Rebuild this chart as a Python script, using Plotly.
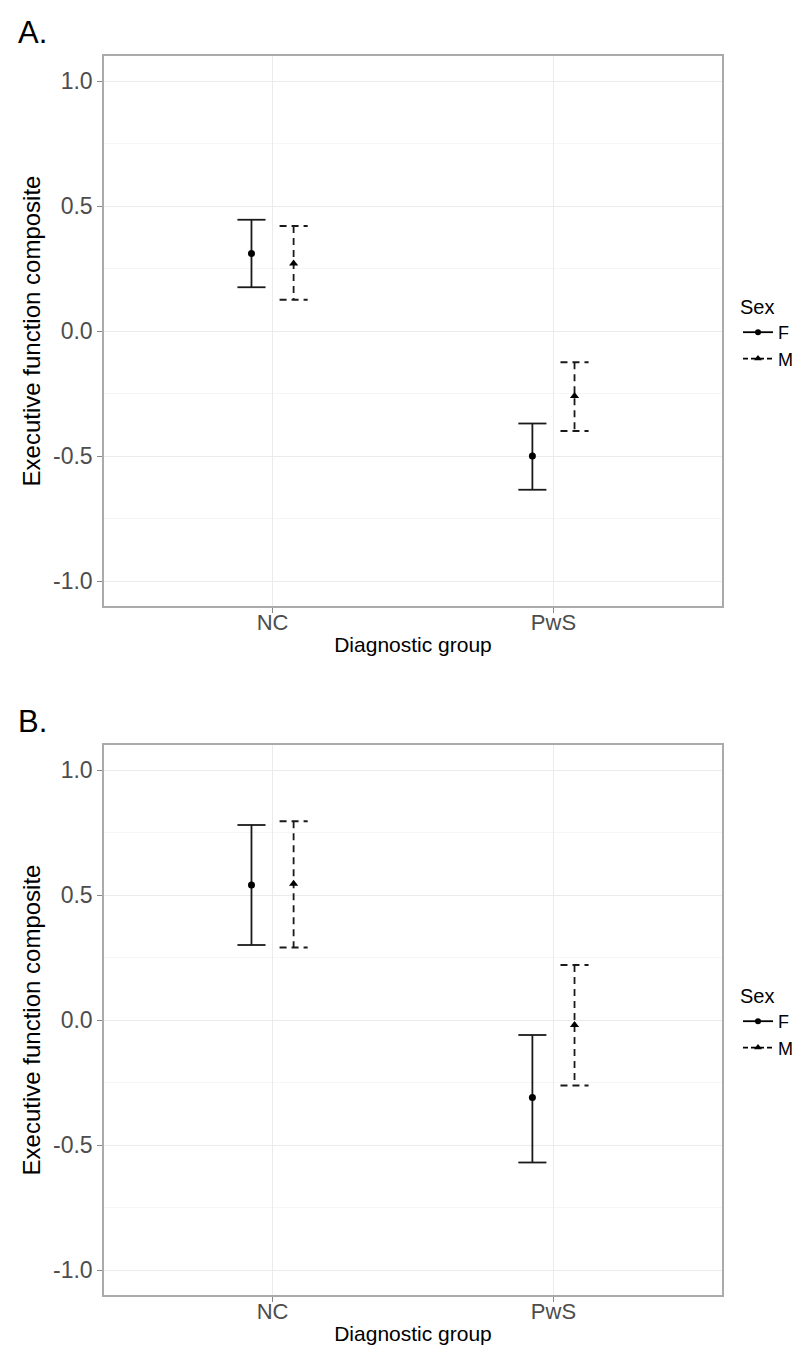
import plotly.graph_objects as go

# ---- data ----
groups = ["NC", "PwS"]
sexes = ["F", "M"]

A_F_mean = [0.31, -0.50]
A_F_lo = [0.175, -0.635]
A_F_hi = [0.445, -0.370]
A_M_mean = [0.27, -0.26]
A_M_lo = [0.125, -0.400]
A_M_hi = [0.420, -0.125]

B_F_mean = [0.54, -0.31]
B_F_lo = [0.300, -0.570]
B_F_hi = [0.780, -0.060]
B_M_mean = [0.545, -0.02]
B_M_lo = [0.290, -0.262]
B_M_hi = [0.795, 0.220]

yticks = [-1.0, -0.5, 0.0, 0.5, 1.0]
ytick_labels = ["-1.0", "-0.5", "0.0", "0.5", "1.0"]

panel_labels = ["A.", "B."]

# ---- styling ----
W, H = 806, 1345
FONT = "Liberation Sans, Arial, sans-serif"
dodge = {"F": -0.075, "M": 0.075}
cap = 0.05
dash_style = {"F": "solid", "M": "7px,5px"}
symbols = {"F": "circle", "M": "triangle-up"}
msize = {"F": 7, "M": 8}

fig = go.Figure()


def errbar_segments(xs, lo, hi):
    X, Y = [], []
    for x, l, h in zip(xs, lo, hi):
        X += [x - cap, x + cap, None]
        Y += [h, h, None]
        X += [x, x, None]
        Y += [h, l, None]
        X += [x - cap, x + cap, None]
        Y += [l, l, None]
    return X, Y


panels = [
    ("x", "y", "legend", {"F": (A_F_mean, A_F_lo, A_F_hi), "M": (A_M_mean, A_M_lo, A_M_hi)}),
    ("x2", "y2", "legend2", {"F": (B_F_mean, B_F_lo, B_F_hi), "M": (B_M_mean, B_M_lo, B_M_hi)}),
]

for xa, ya, lg, data in panels:
    for s in sexes:
        mean, lo, hi = data[s]
        xs = [i + 1 + dodge[s] for i in range(len(groups))]
        ex, ey = errbar_segments(xs, lo, hi)
        fig.add_trace(go.Scatter(
            x=ex, y=ey, mode="lines", xaxis=xa, yaxis=ya,
            line=dict(color="#1a1a1a", width=1.8, dash=dash_style[s]),
            showlegend=False, hoverinfo="skip"))
        fig.add_trace(go.Scatter(
            x=xs, y=mean, mode="markers", xaxis=xa, yaxis=ya,
            marker=dict(symbol=symbols[s], size=msize[s], color="black"),
            showlegend=False))
        fig.add_trace(go.Scatter(
            x=[None], y=[None], mode="lines+markers", xaxis=xa, yaxis=ya,
            name=s, legend=lg,
            line=dict(color="black", width=1.8, dash="solid" if s == "F" else "5px,3px"),
            marker=dict(symbol=symbols[s], size=msize[s] - 1, color="black")))

xdom = [96 / W, 714 / W]
ydomA = [1 - 598 / H, 1 - 48 / H]
ydomB = [1 - 1287 / H, 1 - 737 / H]

axis_common_y = dict(
    range=[-1.1, 1.1], tickvals=yticks, ticktext=ytick_labels,
    showgrid=True, gridcolor="#EBEBEB", gridwidth=1.2,
    minor=dict(dtick=0.25, tick0=0, showgrid=True, gridcolor="#F5F5F5", gridwidth=1),
    zeroline=False, showline=True, linecolor="#AAAAAA", linewidth=1.5, mirror=True,
    ticks="outside", ticklen=5, tickcolor="#888888", tickwidth=1.2,
    tickfont=dict(family=FONT, size=23, color="#4D4D4D"),
    title=dict(text="Executive function composite", font=dict(family=FONT, size=24, color="black"), standoff=6),
)
axis_common_x = dict(
    range=[0.4, 2.6], tickvals=[1, 2], ticktext=groups,
    showgrid=True, gridcolor="#EBEBEB", gridwidth=1.2,
    zeroline=False, showline=True, linecolor="#AAAAAA", linewidth=1.5, mirror=True,
    ticks="outside", ticklen=5, tickcolor="#888888", tickwidth=1.2, ticklabelstandoff=-9,
    tickfont=dict(family=FONT, size=22, color="#4D4D4D"),
    title=dict(text="Diagnostic group", font=dict(family=FONT, size=21, color="black"), standoff=3),
)

legend_common = dict(
    x=730 / W, xanchor="left", bgcolor="rgba(0,0,0,0)",
    font=dict(family=FONT, size=18, color="black"),
    title=dict(text="Sex", font=dict(family=FONT, size=20, color="black")),
    tracegroupgap=0, itemwidth=30,
)

fig.update_layout(
    width=W, height=H, margin=dict(l=0, r=0, t=0, b=0),
    paper_bgcolor="white", plot_bgcolor="white",
    xaxis=dict(domain=xdom, anchor="y", **axis_common_x),
    yaxis=dict(domain=ydomA, anchor="x", **axis_common_y),
    xaxis2=dict(domain=xdom, anchor="y2", **axis_common_x),
    yaxis2=dict(domain=ydomB, anchor="x2", **axis_common_y),
    legend=dict(y=1 - 280 / H, yanchor="top", **legend_common),
    legend2=dict(y=1 - 969 / H, yanchor="top", **legend_common),
)

for lab, ytop in zip(panel_labels, [24, 713]):
    fig.add_annotation(text=lab, x=8 / W, y=1 - ytop / H, xref="paper", yref="paper",
                       xanchor="left", yanchor="middle", showarrow=False,
                       font=dict(family=FONT, size=31, color="black"))

fig.write_html("out.html")
